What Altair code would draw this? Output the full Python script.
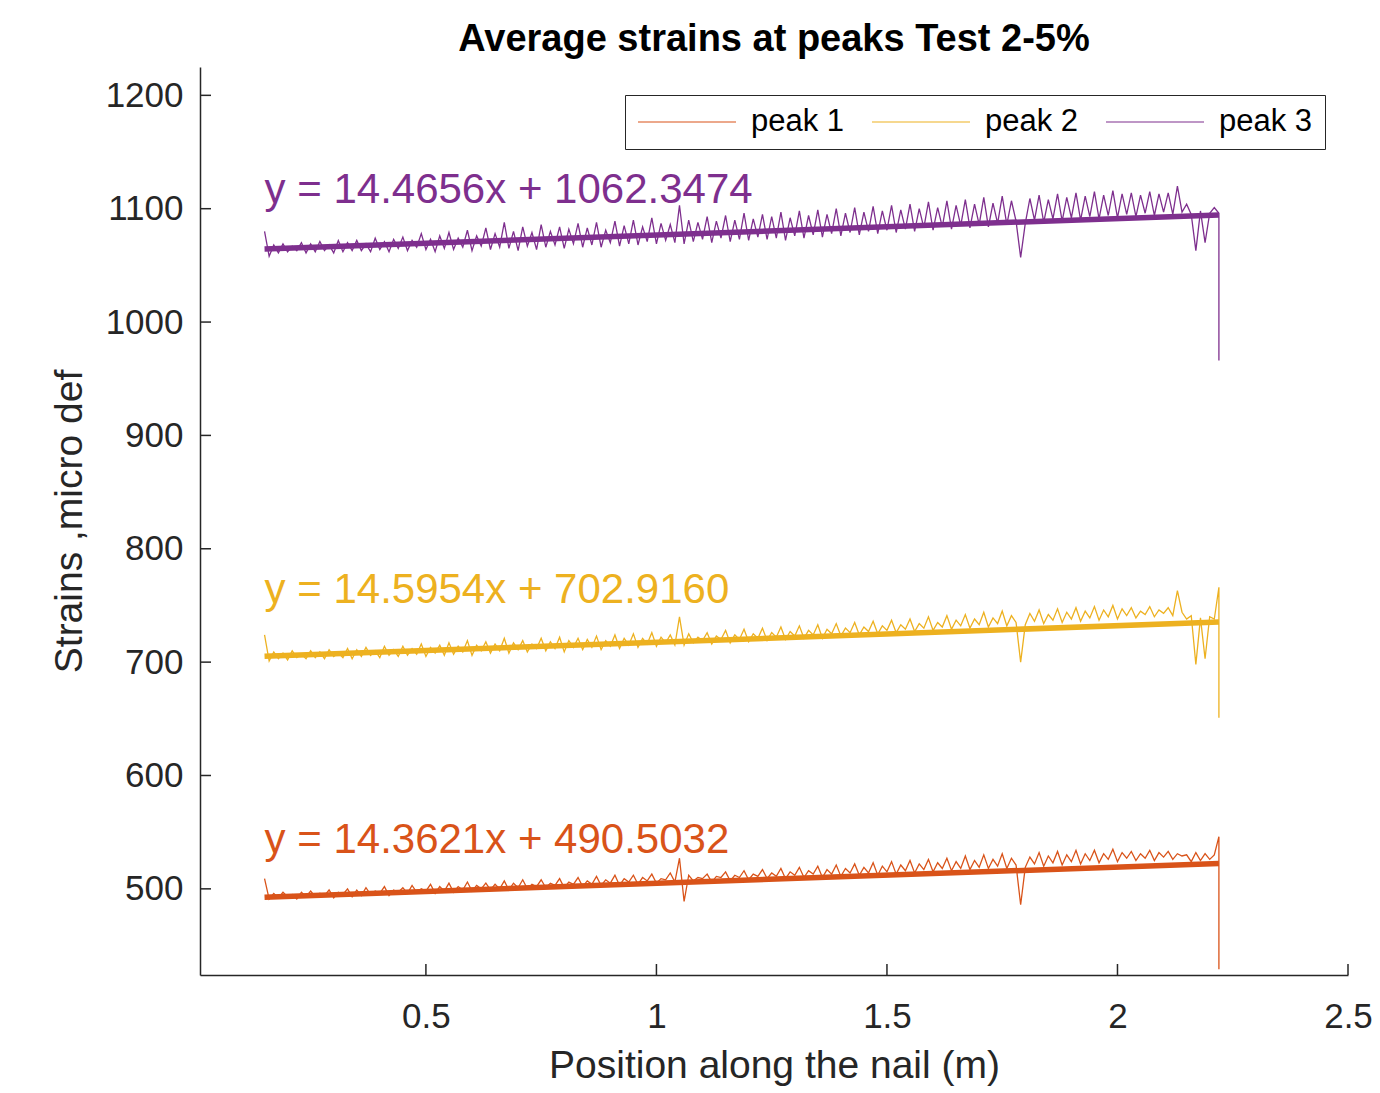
import altair as alt
import pandas as pd

FONT = "Liberation Sans"

# Measurement positions along the nail (m): 0.01 m grid from 0.15 to 2.21, then the end point
POSITIONS = [round(0.15 + 0.01 * i, 2) for i in range(207)] + [2.22, 2.22]

PEAK1 = [
    509, 491, 496, 492, 497, 493, 495, 491, 497, 493,
    498, 493, 496, 494, 499, 492, 497, 495, 500, 493,
    499, 494, 501, 495, 498, 496, 502, 494, 499, 497,
    501, 496, 503, 497, 500, 498, 504, 496, 502, 498,
    505, 497, 502, 499, 506, 498, 503, 500, 505, 499,
    504, 500, 507, 499, 505, 501, 508, 500, 504, 502,
    508, 501, 505, 503, 509, 501, 506, 504, 510, 502,
    507, 504, 511, 503, 508, 505, 512, 503, 509, 506,
    512, 504, 510, 507, 513, 505, 509, 508, 514, 506,
    527, 489, 512, 507, 510, 509, 513, 506, 511, 510,
    515, 507, 512, 510, 516, 508, 513, 511, 517, 509,
    514, 511, 518, 509, 515, 512, 519, 510, 516, 513,
    520, 510, 517, 513, 521, 511, 518, 514, 522, 512,
    519, 514, 523, 512, 520, 515, 524, 513, 521, 516,
    525, 514, 522, 517, 526, 515, 523, 518, 527, 516,
    524, 518, 529, 517, 525, 519, 530, 518, 526, 520,
    531, 518, 527, 521, 486, 519, 528, 522, 532, 520,
    529, 523, 533, 521, 530, 524, 534, 522, 531, 525,
    534, 523, 531, 526, 535, 524, 532, 527, 533, 525,
    531, 527, 534, 525, 532, 528, 533, 526, 531, 529,
    530, 524, 532, 525, 531, 526, 530,
    546, 429,
]

PEAK2 = [
    724, 701, 709, 703, 708, 702, 710, 704, 707, 703,
    710, 704, 709, 703, 711, 705, 708, 704, 712, 703,
    711, 705, 713, 706, 710, 704, 714, 706, 711, 705,
    714, 706, 712, 707, 716, 705, 713, 708, 715, 706,
    717, 707, 714, 709, 719, 706, 715, 710, 718, 708,
    716, 710, 721, 708, 717, 711, 719, 709, 716, 712,
    721, 710, 718, 712, 722, 709, 719, 713, 721, 711,
    720, 713, 723, 711, 719, 714, 724, 712, 721, 715,
    725, 713, 721, 716, 726, 714, 722, 717, 724, 715,
    740, 715, 725, 717, 722, 719, 726, 716, 723, 720,
    728, 717, 724, 720, 729, 718, 725, 721, 730, 719,
    726, 722, 731, 720, 727, 723, 732, 721, 728, 724,
    733, 721, 729, 725, 734, 723, 730, 726, 735, 724,
    731, 727, 736, 725, 732, 728, 737, 726, 733, 729,
    738, 727, 734, 730, 740, 728, 735, 731, 741, 729,
    737, 732, 742, 730, 738, 733, 744, 731, 739, 734,
    745, 732, 741, 735, 700, 733, 743, 736, 746, 734,
    742, 737, 747, 735, 744, 738, 748, 736, 745, 739,
    749, 737, 746, 740, 750, 738, 747, 741, 748, 739,
    745, 742, 749, 740, 746, 743, 748, 741, 763, 744,
    738, 741, 698, 739, 703, 740, 738,
    766, 651,
]

PEAK3 = [
    1080, 1058, 1068, 1061, 1069, 1062, 1067, 1063, 1070, 1061,
    1069, 1062, 1071, 1063, 1068, 1061, 1072, 1062, 1070, 1063,
    1072, 1063, 1069, 1062, 1074, 1064, 1071, 1062, 1073, 1065,
    1075, 1063, 1072, 1066, 1078, 1064, 1073, 1062, 1076, 1065,
    1079, 1064, 1074, 1066, 1081, 1063, 1076, 1067, 1083, 1064,
    1078, 1066, 1088, 1065, 1080, 1063, 1084, 1067, 1079, 1064,
    1086, 1066, 1080, 1068, 1084, 1065, 1082, 1069, 1087, 1066,
    1083, 1068, 1088, 1066, 1081, 1070, 1089, 1067, 1085, 1069,
    1090, 1068, 1084, 1071, 1092, 1069, 1087, 1072, 1086, 1070,
    1103, 1069, 1090, 1071, 1088, 1073, 1093, 1070, 1089, 1074,
    1094, 1071, 1090, 1073, 1096, 1072, 1091, 1075, 1095, 1073,
    1093, 1074, 1097, 1072, 1092, 1076, 1098, 1074, 1094, 1077,
    1099, 1075, 1095, 1078, 1100, 1076, 1096, 1079, 1101, 1077,
    1097, 1080, 1102, 1078, 1098, 1081, 1103, 1079, 1099, 1082,
    1104, 1080, 1100, 1083, 1106, 1081, 1101, 1084, 1107, 1082,
    1103, 1085, 1108, 1083, 1104, 1086, 1110, 1084, 1105, 1087,
    1111, 1086, 1107, 1089, 1057, 1087, 1109, 1090, 1112, 1088,
    1108, 1091, 1113, 1089, 1110, 1092, 1114, 1090, 1111, 1093,
    1115, 1091, 1112, 1094, 1116, 1092, 1113, 1095, 1114, 1093,
    1112, 1096, 1115, 1094, 1113, 1097, 1114, 1095, 1120, 1097,
    1104, 1095, 1063, 1098, 1070, 1096, 1101,
    1096, 966,
]

SERIES = ["peak 1", "peak 2", "peak 3"]
COLORS = ["#D95319", "#EDB120", "#7E2F8E"]
SLOPES = [14.3621, 14.5954, 14.4656]
INTERCEPTS = [490.5032, 702.9160, 1062.3474]
FIT_X = [0.15, 2.22]
LABEL_X = 0.15
LABEL_Y = [532, 752, 1105]

X_TICKS = [0.5, 1, 1.5, 2, 2.5]
Y_TICKS = [500, 600, 700, 800, 900, 1000, 1100, 1200]
X_DOMAIN = [0.01, 2.5]
Y_DOMAIN = [424, 1225]

# ---- tables ----
rows = []
for name, vals in zip(SERIES, [PEAK1, PEAK2, PEAK3]):
    for i, (x, y) in enumerate(zip(POSITIONS, vals)):
        rows.append({"series": name, "position": x, "strain": y, "idx": i})
data = pd.DataFrame(rows)

fit_rows = []
for name, m, b in zip(SERIES, SLOPES, INTERCEPTS):
    for j, x in enumerate(FIT_X):
        fit_rows.append({"series": name, "position": x, "strain": m * x + b, "idx": j})
fits = pd.DataFrame(fit_rows)

labels = pd.DataFrame({
    "series": SERIES,
    "position": [LABEL_X] * 3,
    "strain": LABEL_Y,
    "label": [f"y = {m:.4f}x + {b:.4f}" for m, b in zip(SLOPES, INTERCEPTS)],
})

xs = alt.Scale(domain=X_DOMAIN, nice=False, zero=False)
ys = alt.Scale(domain=Y_DOMAIN, nice=False, zero=False)

AX = "#262626"
x_axis = alt.Axis(
    values=X_TICKS, format="~g", title="Position along the nail (m)",
    ticks=False, grid=False, labelFlush=False, labelOverlap=False,
    labelPadding=24, labelFont=FONT, labelFontSize=35, labelColor=AX,
    titleFont=FONT, titleFontSize=39, titleFontWeight="normal", titleColor=AX,
    titlePadding=12,
    domainColor=AX, domainWidth=1.5,
)
y_axis = alt.Axis(
    values=Y_TICKS, format="d", title="Strains ,micro def",
    ticks=False, grid=False, labelOverlap=False,
    labelPadding=17, labelFont=FONT, labelFontSize=35, labelColor=AX,
    titleFont=FONT, titleFontSize=39, titleFontWeight="normal", titleColor=AX,
    titlePadding=16,
    domainColor=AX, domainWidth=1.5,
)

color_enc = alt.Color(
    "series:N",
    scale=alt.Scale(domain=SERIES, range=COLORS),
    legend=alt.Legend(
        title=None, orient="none", legendX=425, legendY=28, direction="horizontal",
        symbolType="stroke", symbolSize=9604, symbolStrokeWidth=1.2, clipHeight=30,
        labelFont=FONT, labelFontSize=31, labelColor="black", labelOffset=14,
        columnPadding=26, padding=12, strokeColor=AX, fillColor="white",
    ),
)

X_ENC = alt.X("position:Q", scale=xs, axis=x_axis)
Y_ENC = alt.Y("strain:Q", scale=ys, axis=y_axis)

lines = alt.Chart(data).mark_line(strokeWidth=1.3).encode(
    x=X_ENC, y=Y_ENC, color=color_enc, order=alt.Order("idx:Q"),
)

fit_lines = alt.Chart(fits).mark_line(strokeWidth=5.5).encode(
    x=X_ENC, y=Y_ENC, color=color_enc, order=alt.Order("idx:Q"),
)

texts = alt.Chart(labels).mark_text(
    align="left", baseline="alphabetic", font=FONT, fontSize=42
).encode(
    x=X_ENC, y=Y_ENC, text="label:N", color=color_enc,
)

yt = alt.Chart(pd.DataFrame({"strain": Y_TICKS})).mark_rule(color=AX, strokeWidth=1.5).encode(
    y=Y_ENC, x=alt.value(0), x2=alt.value(11),
)
xt = alt.Chart(pd.DataFrame({"position": X_TICKS})).mark_rule(color=AX, strokeWidth=1.5).encode(
    x=X_ENC, y=alt.value(908), y2=alt.value(897),
)

chart = alt.layer(lines, fit_lines, texts, yt, xt).properties(
    width=1148, height=908,
    autosize=alt.AutoSizeParams(type="none"),
    padding={"left": 200, "top": 67, "right": 32, "bottom": 118},
    background="white",
    title=alt.TitleParams(
        "Average strains at peaks Test 2-5%", font=FONT, fontSize=38, fontWeight="bold",
        color="black", anchor="middle", offset=8, frame="group",
    ),
).configure_view(stroke=None)

chart.save("out.html", embed_options={"renderer": "svg", "actions": False})
